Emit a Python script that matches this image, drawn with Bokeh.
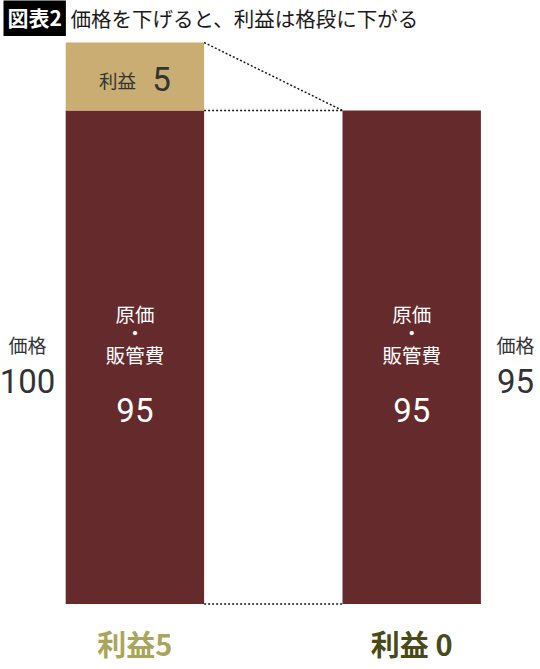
from bokeh.plotting import figure
from bokeh.models import ColumnDataSource, Range1d, Label
from bokeh.embed import file_html
from bokeh.resources import INLINE
from bokeh.core.properties import value

# ---- data ----
categories = ["利益5", "利益 0"]
price = [100, 95]
cost = [95, 95]
profit = [5, 0]
cost_label = ["原価", "・", "販管費"]
title = "価格を下げると、利益は格段に下がる"
tag = "図表2"
price_label = "価格"

# ---- styling / layout constants ----
W, H = 540, 669
ORIGIN = 0                   # page pixel of figure's top-left
PX_PER_UNIT = 5.195          # vertical pixels per value unit
BASE_PY = 603.5              # page pixel of value 0
PROFIT_SCALE = 2.616         # profit band is drawn enlarged (as in the original)
CX = [134.4, 411.2]          # page pixel of category centres
PX_PER_CAT = CX[1] - CX[0]
BAR_W = 0.5

MAROON = "#652a2c"
TAN = "#c9ad72"
OLIVE_L = "#a9a65b"
OLIVE_D = "#4a4918"

CJK = value("Noto Sans CJK JP")
NUM = value("Roboto")
NUM_SIZE = "33px"


def px2y(py):
    return (BASE_PY - py) / PX_PER_UNIT


def px2x(px):
    return (px - CX[0]) / PX_PER_CAT


xs = list(range(len(categories)))
profit_top = [c + p * PROFIT_SCALE for c, p in zip(cost, profit)]

p = figure(width=W, height=H, output_backend="svg", toolbar_location=None,
           x_range=Range1d(px2x(ORIGIN), px2x(ORIGIN + W)),
           y_range=Range1d(px2y(ORIGIN + H), px2y(ORIGIN)),
           x_axis_location=None, y_axis_location=None, min_border=0)
p.grid.visible = False
p.outline_line_color = None
p.background_fill_color = "white"

src = ColumnDataSource(dict(x=xs, cost=cost, ptop=profit_top, zero=[0] * len(xs)))
p.vbar(x="x", bottom="zero", top="cost", width=BAR_W, source=src,
       fill_color=MAROON, line_color=None)
p.vbar(x="x", bottom="cost", top="ptop", width=BAR_W, source=src,
       fill_color=TAN, line_color=None)

# connector dotted lines
r0 = xs[0] + BAR_W / 2
l1 = xs[1] - BAR_W / 2
dot = dict(line_color="#1a1a1a", line_width=1.5, line_dash="2 2")
p.line([r0, l1], [profit_top[0], profit_top[1]], **dot)
p.line([r0, l1], [cost[0], cost[1]], **dot)
p.line([r0, l1], [0, 0], **dot)

# texts inside cost bars
for i in xs:
    p.text(x=[xs[i]] * 3, y=[px2y(312.5), px2y(331.5), px2y(354)], text=cost_label,
           text_font=CJK, text_font_size="19.5px", text_color="white",
           text_align="center", text_baseline="middle")
    p.text(x=[xs[i]], y=[px2y(409)], text=[str(cost[i])],
           text_font=NUM, text_font_size=NUM_SIZE, text_color="white",
           text_align="center", text_baseline="middle")

# profit label in tan band
p.text(x=[px2x(117)], y=[px2y(79)], text=[categories[0][:2]],
       text_font=CJK, text_font_size="18.5px", text_color="#333333",
       text_align="center", text_baseline="middle")
p.text(x=[px2x(161)], y=[px2y(78)], text=[str(profit[0])],
       text_font=NUM, text_font_size=NUM_SIZE, text_color="#333333",
       text_align="center", text_baseline="middle")

# price labels at the sides
side_x = [px2x(27), px2x(515)]
for i in xs:
    p.text(x=[side_x[i]], y=[px2y(344)], text=[price_label],
           text_font=CJK, text_font_size="19px", text_color="#333333",
           text_align="center", text_baseline="middle")
    p.text(x=[side_x[i]], y=[px2y(380)], text=[str(price[i])],
           text_font=NUM, text_font_size=NUM_SIZE, text_color="#333333",
           text_align="center", text_baseline="middle")

# category labels under the bars
p.text(x=xs, y=[px2y(642)] * 2, text=categories,
       text_font=CJK, text_font_size="29px", text_font_style="bold",
       text_color=[OLIVE_L, OLIVE_D], text_align="center", text_baseline="middle")

# title
tag_lbl = Label(x=px2x(3), y=px2y(16.5), text=tag, text_font="Noto Sans CJK JP",
                text_font_size="21px", text_font_style="bold", text_color="white",
                text_baseline="middle", background_fill_color="black",
                padding=4)
p.add_layout(tag_lbl)
p.text(x=[px2x(70)], y=[px2y(17)], text=[title], text_font=CJK,
       text_font_size="20.5px", text_color="#1a1a1a", text_baseline="middle")

open("out.html", "w").write(file_html(p, INLINE))
